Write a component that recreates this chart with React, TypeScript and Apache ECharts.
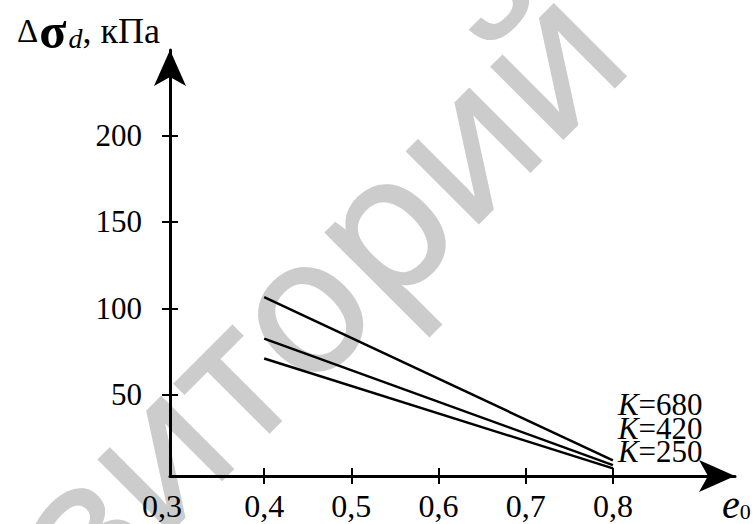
import React, { useEffect, useRef } from "react";
import * as echarts from "echarts";

const seriesNames = ["680", "420", "250"];
const xValues = [0.4, 0.8];
const k680 = [106.5, 12];
const k420 = [82.5, 9.3];
const k250 = [71, 7.4];
const xTickValues = [0.4, 0.5, 0.6, 0.7, 0.8];
const xLabelValues = [0.3, 0.4, 0.5, 0.6, 0.7, 0.8];
const yTickValues = [50, 100, 150, 200];
const watermark = "репозиторий";

const SERIF = "'Liberation Serif', 'DejaVu Serif', serif";

export default function App() {
  const ref = useRef<HTMLDivElement>(null);
  useEffect(() => {
    if (!ref.current) return;
    const chart = echarts.init(ref.current, null, { renderer: "svg" });
    const xMin = 0.292, xMax = 0.94, yMin = 3, yMax = 249.4;
    const allSeries = [k680, k420, k250];
    const offsets = [-56, -37, -17];
    const option: any = {
      animation: false,
      backgroundColor: "#ffffff",
      grid: { left: 170, right: 21, top: 50, bottom: 47, containLabel: false },
      graphic: [
        {
          type: "text",
          z: -10,
          x: -275,
          y: 873,
          rotation: Math.PI / 4,
          silent: true,
          style: {
            text: watermark,
            fontFamily: "'Open Sans', 'Noto Sans', sans-serif",
            fontSize: 188,
            fill: "#cccccc",
            stroke: "#cccccc",
            lineWidth: 3,
            align: "left",
            verticalAlign: "middle",
          },
        },
      ],
      xAxis: [
        {
          type: "value",
          min: xMin,
          max: xMax,
          position: "bottom",
          axisLine: {
            show: true,
            onZero: false,
            symbol: ["none", "arrow"],
            symbolSize: [24, 36],
            lineStyle: { color: "#000", width: 3 },
          },
          axisTick: {
            show: true,
            inside: false,
            length: 8,
            customValues: xTickValues,
            lineStyle: { color: "#000", width: 2 },
          },
          axisLabel: {
            show: true,
            margin: 14,
            customValues: xLabelValues,
            fontFamily: SERIF,
            fontSize: 32,
            color: "#000",
            formatter: (v: number) => {
              const s = v.toFixed(1).replace(".", ",");
              return v < 0.35 ? "{a|" + s + "}" : s;
            },
            rich: {
              a: { fontFamily: SERIF, fontSize: 32, color: "#000", padding: [0, 30, 0, 0] },
            },
          },
          splitLine: { show: false },
          name: "{e|e}{s|0}",
          nameLocation: "end",
          nameGap: -13,
          nameTextStyle: {
            align: "left",
            verticalAlign: "top",
            padding: [8, 0, 0, 0],
            rich: {
              e: { fontFamily: SERIF, fontSize: 40, fontStyle: "italic", color: "#000" },
              s: { fontFamily: SERIF, fontSize: 22, color: "#000", padding: [14, 0, 0, 0] },
            },
          },
        },
        {
          type: "value",
          min: xMin,
          max: xMax,
          position: "bottom",
          axisLine: { show: false, onZero: false },
          axisTick: {
            show: true,
            inside: true,
            length: 8,
            customValues: xTickValues,
            lineStyle: { color: "#000", width: 2 },
          },
          axisLabel: { show: false },
          splitLine: { show: false },
        },
      ],
      yAxis: [
        {
          type: "value",
          min: yMin,
          max: yMax,
          position: "left",
          axisLine: {
            show: true,
            onZero: false,
            symbol: ["none", "arrow"],
            symbolSize: [24, 36],
            lineStyle: { color: "#000", width: 3 },
          },
          axisTick: {
            show: true,
            inside: false,
            length: 8,
            customValues: yTickValues,
            lineStyle: { color: "#000", width: 2 },
          },
          axisLabel: {
            show: true,
            margin: 28,
            customValues: yTickValues,
            fontFamily: SERIF,
            fontSize: 31,
            color: "#000",
            padding: [0, 0, 5, 0],
          },
          splitLine: { show: false },
          name: "{d|Δ}{sig|σ}{sub|d}{r|, кПа}",
          nameLocation: "end",
          nameGap: -6,
          nameTextStyle: {
            align: "right",
            verticalAlign: "bottom",
            padding: [0, 10, 0, 0],
            rich: {
              d: { fontFamily: SERIF, fontSize: 33, color: "#000", padding: [0, 1, 0, 0] },
              sig: { fontFamily: SERIF, fontSize: 50, fontWeight: "bold", color: "#000", padding: [0, 2, 0, 0] },
              sub: { fontFamily: SERIF, fontSize: 28, fontStyle: "italic", color: "#000", padding: [14, 0, 0, 0] },
              r: { fontFamily: SERIF, fontSize: 36, color: "#000" },
            },
          },
        },
        {
          type: "value",
          min: yMin,
          max: yMax,
          position: "left",
          axisLine: { show: false, onZero: false },
          axisTick: {
            show: true,
            inside: true,
            length: 8,
            customValues: yTickValues,
            lineStyle: { color: "#000", width: 2 },
          },
          axisLabel: { show: false },
          splitLine: { show: false },
        },
      ],
      series: allSeries.map((vals, i) => ({
        type: "line",
        name: "K=" + seriesNames[i],
        xAxisIndex: 0,
        yAxisIndex: 0,
        data: xValues.map((x, j) => [x, vals[j]]),
        symbol: "none",
        lineStyle: { color: "#000", width: 2.5 },
        z: 5,
        endLabel: {
          show: true,
          distance: 5,
          offset: [0, offsets[i]],
          formatter: "{k|K}{n|=" + seriesNames[i] + "}",
          rich: {
            k: { fontFamily: SERIF, fontSize: 31, fontStyle: "italic", color: "#000" },
            n: { fontFamily: SERIF, fontSize: 31, color: "#000" },
          },
        },
      })),
    };
    chart.setOption(option);
    return () => chart.dispose();
  }, []);
  return <div ref={ref} style={{ width: 756, height: 524, position: "absolute", left: 0, top: 0 }} />;
}
